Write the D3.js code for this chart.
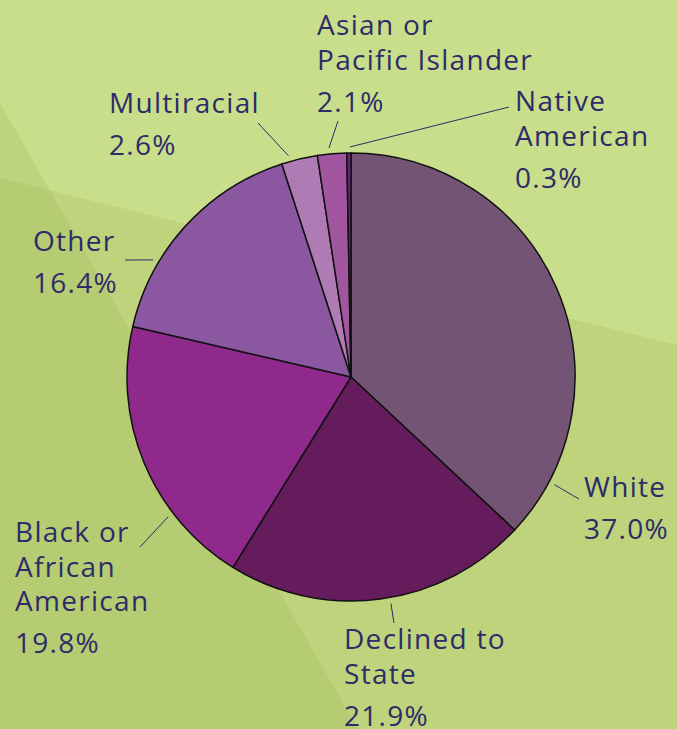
<!DOCTYPE html>
<html>
<head>
<meta charset="utf-8">
<script src="https://cdn.jsdelivr.net/npm/d3@7"></script>
<style>
  html, body { margin: 0; padding: 0; background: #c9de8a; }
  svg { display: block; }
  .lbl { font-family: "Open Sans", "Noto Sans", sans-serif; font-size: 28px; fill: #2d2b68; letter-spacing: 1.3px; }
</style>
</head>
<body>
<svg id="chart" width="677" height="729"></svg>
<script>
// Data
const categories = ["White", "Declined to State", "Black or African American", "Other", "Multiracial", "Asian or Pacific Islander", "Native American"];
const values = [37.0, 21.9, 19.8, 16.4, 2.6, 2.1, 0.3];
const colors = ["#735474", "#641c5c", "#90298c", "#8a57a0", "#b07bb5", "#a356a0", "#6a2276"];

// label lines and where they sit (layout)
const labelLines = [
  ["White"], ["Declined to", "State"], ["Black or", "African", "American"], ["Other"],
  ["Multiracial"], ["Asian or", "Pacific Islander"], ["Native", "American"]
];
const labelPos = [[584, 497], [344, 649], [15, 542], [33, 251], [109, 113], [317, 35], [515, 111]];
const leaderAngle = [117.9, 170, 232.6, 300.6, 344.2, 354.5, 359.7];
const leaderEnd = [[579, 499], [394, 623], [140, 547], [125, 260], [258, 123], [338, 121], [509, 107]];

const svg = d3.select("#chart");
const width = 677, height = 729;

// background panels
const bg = svg.append("g");
bg.append("rect").attr("width", width).attr("height", height).attr("fill", "#c9de8a");
bg.append("polygon").attr("points", "0,178 677,345 677,729 0,729").attr("fill", "#b5cb70").attr("opacity", 0.55);
bg.append("polygon").attr("points", "0,103 358,729 0,729").attr("fill", "#a9bf63").attr("opacity", 0.35);

const cx = 351, cy = 377, r = 224;
const g = svg.append("g").attr("transform", `translate(${cx},${cy})`);

const pie = d3.pie().sort(null).value(d => d);
const arc = d3.arc().innerRadius(0).outerRadius(r);
const arcs = pie(values);

g.selectAll("path.slice")
  .data(arcs)
  .enter().append("path")
    .attr("class", "slice")
    .attr("d", arc)
    .attr("fill", (d, i) => colors[i])
    .attr("stroke", "#111")
    .attr("stroke-width", 1.5)
    .attr("stroke-linejoin", "round");

// leader lines
arcs.forEach((d, i) => {
  const p = d3.pointRadial(leaderAngle[i] * Math.PI / 180, r + 6);
  svg.append("line")
    .attr("x1", cx + p[0]).attr("y1", cy + p[1])
    .attr("x2", leaderEnd[i][0]).attr("y2", leaderEnd[i][1])
    .attr("stroke", "#2d2b68").attr("stroke-width", 1);
});

// labels
categories.forEach((c, i) => {
  const t = svg.append("text").attr("class", "lbl")
    .attr("x", labelPos[i][0]).attr("y", labelPos[i][1]);
  labelLines[i].forEach((ln, j) => {
    t.append("tspan").attr("x", labelPos[i][0]).attr("dy", j === 0 ? 0 : 34.5).text(ln);
  });
  t.append("tspan").attr("x", labelPos[i][0]).attr("dy", 42).text(values[i].toFixed(1) + "%");
});
</script>
</body>
</html>
